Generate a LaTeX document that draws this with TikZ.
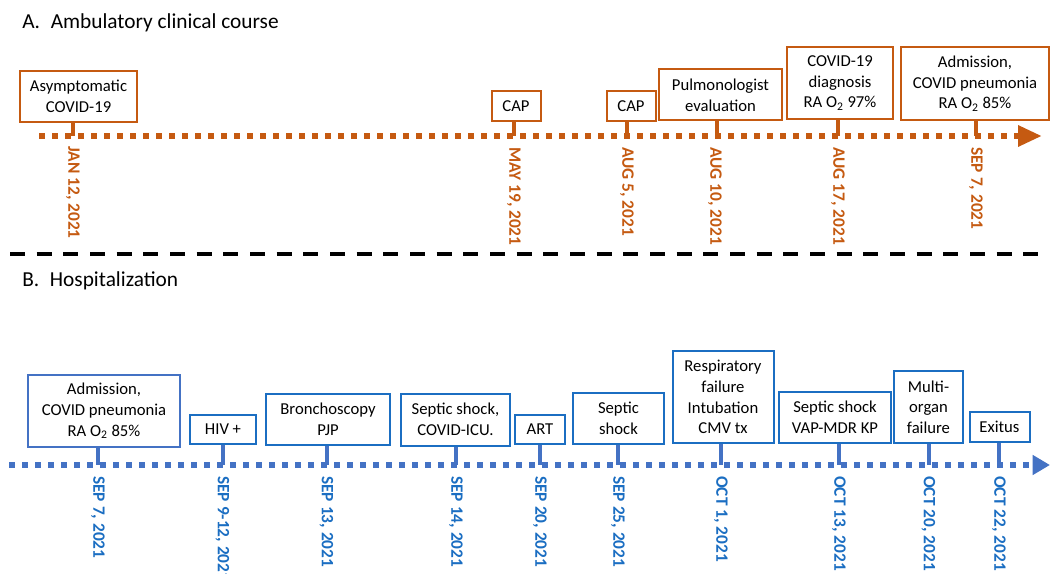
\documentclass[tikz,border=0pt]{standalone}
\usepackage{fontspec}
\setmainfont{Carlito}
\usepackage{tikz}
\usetikzlibrary{arrows.meta,positioning}

\definecolor{ambuorange}{HTML}{C55A11}
\definecolor{hospline}{HTML}{4472C4}
\definecolor{hospblue}{HTML}{1B6EC2}

\begin{document}
\begin{tikzpicture}[x=0.75pt,y=-0.75pt,
    box/.style={draw,fill=white,line width=1.5pt,align=center,inner sep=2pt,font=\fontsize{12.5}{15.5}\selectfont},
    ambu/.style={box,draw=ambuorange},
    hosp/.style={box,draw=hospblue},
    ambutick/.style={ambuorange,line width=3pt},
    hosptick/.style={hospline,line width=3pt},
    date/.style={rotate=-90,anchor=west,inner sep=0pt,font=\fontsize{13}{14}\selectfont\bfseries},
    ambudate/.style={date,text=ambuorange},
    hospdate/.style={date,text=hospblue},
    title/.style={anchor=west,inner sep=0pt,font=\fontsize{16}{18}\selectfont}]
    \useasboundingbox[fill=white] (0,0) rectangle (1050,574);

    % A. ambulatory
    \node[title] (tA) at (22,23) {A.\hspace{0.5em}Ambulatory clinical course};
    \coordinate (s1) at (39,136);
    \coordinate (e1) at (1042,136);
    \draw[ambuorange,line width=4.5pt,dash pattern=on 4.5pt off 5.25pt,-{Triangle[length=18pt,width=15pt]}] (s1) -- (e1);

    \coordinate (ta1) at (73,136);
    \coordinate (ta2) at (514,136);
    \coordinate (ta3) at (627,136);
    \coordinate (ta4) at (717,136);
    \coordinate (ta5) at (838,136);
    \coordinate (ta6) at (976,136);

    \node[ambu,minimum width=87.75pt,minimum height=38.25pt] (a1) at (78.5,96.5) {Asymptomatic\\COVID-19};
    \node[ambu,minimum width=36.75pt,minimum height=22.5pt] (a2) at (516,106) {CAP};
    \node[ambu,minimum width=36.75pt,minimum height=22.5pt] (a3) at (631,106) {CAP};
    \node[ambu,minimum width=92.25pt,minimum height=38.25pt] (a4) at (720.5,95) {Pulmonologist\\evaluation};
    \node[ambu,minimum width=79.5pt,minimum height=54pt] (a5) at (840,83) {COVID-19\\diagnosis\\RA O\textsubscript{2} 97\%};
    \node[ambu,minimum width=111pt,minimum height=54.75pt] (a6) at (975,83.5) {Admission,\\COVID pneumonia\\RA O\textsubscript{2} 85\%};

    \draw[ambutick] (a1.south -| ta1) -- (ta1);
    \draw[ambutick] (a2.south -| ta2) -- (ta2);
    \draw[ambutick] (a3.south -| ta3) -- (ta3);
    \draw[ambutick] (a4.south -| ta4) -- (ta4);
    \draw[ambutick] (a5.south -| ta5) -- (ta5);
    \draw[ambutick] (a6.south -| ta6) -- (ta6);

    \node[ambudate] (da1) at (73,146) {JAN 12, 2021};
    \node[ambudate] (da2) at (514,147) {MAY 19, 2021};
    \node[ambudate] (da3) at (627,147) {AUG 5, 2021};
    \node[ambudate] (da4) at (715,147) {AUG 10, 2021};
    \node[ambudate] (da5) at (838,147) {AUG 17, 2021};
    \node[ambudate] (da6) at (976,147) {SEP 7, 2021};

    % separator
    \coordinate (l1) at (10,254);
    \coordinate (l2) at (1050,254);
    \draw[black,line width=3pt,dash pattern=on 11.25pt off 8.75pt] (l1) -- (l2);

    % B. hospitalization
    \node[title] (tB) at (22,281) {B.\hspace{0.5em}Hospitalization};
    \coordinate (s2) at (9,465);
    \coordinate (e2) at (1050,465);
    \draw[hospline,line width=4.5pt,dash pattern=on 4.5pt off 5.25pt,-{Triangle[length=13pt,width=14.25pt]}] (s2) -- (e2);

    \coordinate (tb1) at (98,465);
    \coordinate (tb2) at (222.5,465);
    \coordinate (tb3) at (326.5,465);
    \coordinate (tb4) at (456,465);
    \coordinate (tb5) at (540,465);
    \coordinate (tb6) at (618,465);
    \coordinate (tb7) at (721,465);
    \coordinate (tb8) at (839,465);
    \coordinate (tb9) at (928.5,465);
    \coordinate (tb10) at (999,465);

    \node[hosp,draw=hospline,minimum width=114pt,minimum height=54pt] (b1) at (104,411) {Admission,\\COVID pneumonia\\RA O\textsubscript{2} 85\%};
    \node[hosp,minimum width=49.5pt,minimum height=21.75pt] (b2) at (223,429) {HIV +};
    \node[hosp,minimum width=93pt,minimum height=38.25pt] (b3) at (328,419.5) {Bronchoscopy\\PJP};
    \node[hosp,minimum width=81.75pt,minimum height=39pt] (b4) at (455.5,419.5) {Septic shock,\\COVID-ICU.};
    \node[hosp,minimum width=37.5pt,minimum height=21.75pt] (b5) at (540,429.5) {ART};
    \node[hosp,minimum width=68.25pt,minimum height=38.25pt] (b6) at (618.5,418) {Septic\\shock};
    \node[hosp,minimum width=75.75pt,minimum height=69pt] (b7) at (723,397) {Respiratory\\failure\\Intubation\\CMV tx};
    \node[hosp,minimum width=84pt,minimum height=38.25pt] (b8) at (835,417) {Septic shock\\VAP-MDR KP};
    \node[hosp,minimum width=51.75pt,minimum height=54pt] (b9) at (928.5,407) {Multi-\\organ\\failure};
    \node[hosp,minimum width=45pt,minimum height=22.5pt] (b10) at (999.5,426.5) {Exitus};

    \draw[hosptick] (b1.south -| tb1) -- (tb1);
    \draw[hosptick] (b2.south -| tb2) -- (tb2);
    \draw[hosptick] (b3.south -| tb3) -- (tb3);
    \draw[hosptick] (b4.south -| tb4) -- (tb4);
    \draw[hosptick] (b5.south -| tb5) -- (tb5);
    \draw[hosptick] (b6.south -| tb6) -- (tb6);
    \draw[hosptick] (b7.south -| tb7) -- (tb7);
    \draw[hosptick] (b8.south -| tb8) -- (tb8);
    \draw[hosptick] (b9.south -| tb9) -- (tb9);
    \draw[hosptick] (b10.south -| tb10) -- (tb10);

    \node[hospdate] (db1) at (98,476) {SEP 7, 2021};
    \node[hospdate] (db2) at (222.5,476) {SEP 9-12, 2021};
    \node[hospdate] (db3) at (326.5,476) {SEP 13, 2021};
    \node[hospdate] (db4) at (456,476) {SEP 14, 2021};
    \node[hospdate] (db5) at (540,476) {SEP 20, 2021};
    \node[hospdate] (db6) at (618,476) {SEP 25, 2021};
    \node[hospdate] (db7) at (721,476) {OCT 1, 2021};
    \node[hospdate] (db8) at (839,476) {OCT 13, 2021};
    \node[hospdate] (db9) at (928.5,476) {OCT 20, 2021};
    \node[hospdate] (db10) at (999,476) {OCT 22, 2021};
\end{tikzpicture}
\end{document}
